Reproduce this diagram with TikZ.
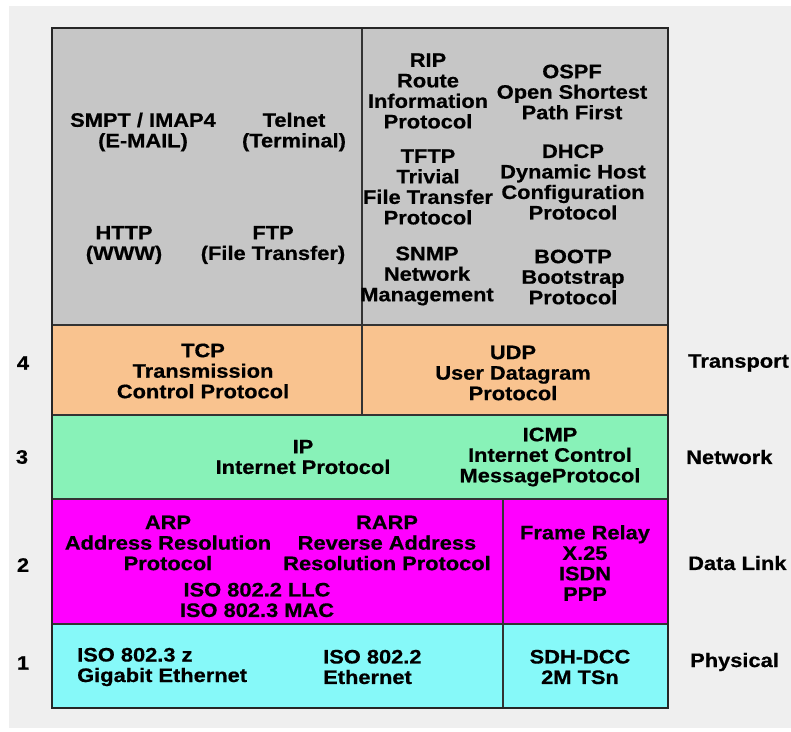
\documentclass[tikz,border=0pt]{standalone}
\usepackage{fontspec}
\setmainfont{Liberation Sans}[FakeStretch=1.12, FakeBold=0.6]
\begin{document}
\begin{tikzpicture}[x=1pt,y=-1pt,
  lbl/.style={font=\bfseries\fontsize{19.5}{20.5}\selectfont, align=center, inner sep=0pt, text=black},
  lbll/.style={lbl, align=left, anchor=west},
  side/.style={lbl, anchor=west},
  num/.style={lbl},
  frame/.style={draw=black!85, line width=2pt},
  divider/.style={draw=black!80, line width=1.4pt}]
\definecolor{bgpaper}{HTML}{EFEFEF}
\definecolor{appgray}{HTML}{C6C6C6}
\definecolor{transport}{HTML}{F9C38F}
\definecolor{network}{HTML}{88F2B8}
\definecolor{datalink}{HTML}{FF00FF}
\definecolor{physical}{HTML}{86F9F9}
% page and paper background
\useasboundingbox (0,0) rectangle (791,731);
\fill[white] (0,0) rectangle (791,731);
\fill[bgpaper] (9,6) rectangle (791,728);
% layer bands
\fill[appgray]   (52,28)  rectangle (668,325);
\fill[transport] (52,325) rectangle (668,415);
\fill[network]   (52,415) rectangle (668,499);
\fill[datalink]  (52,499) rectangle (668,624);
\fill[physical]  (52,624) rectangle (668,708);
% band borders and column dividers
\coordinate (tl) at (52,28);
\coordinate (br) at (668,708);
\draw[divider] (52,325) -- (668,325);
\draw[divider] (52,415) -- (668,415);
\draw[divider] (52,499) -- (668,499);
\draw[divider] (52,624) -- (668,624);
\draw[divider] (362,28) -- (362,415);
\draw[divider] (503,499) -- (503,708);
\draw[frame] (tl) rectangle (br);
% application layer
\node[lbl] (smtp)   at (143,132) {SMPT / IMAP4\\(E-MAIL)};
\node[lbl] (telnet) at (294,132) {Telnet\\(Terminal)};
\node[lbl] (http)   at (124,245) {HTTP\\(WWW)};
\node[lbl] (ftp)    at (273,245) {FTP\\(File Transfer)};
\node[lbl] (rip)    at (428,91)  {RIP\\Route\\Information\\Protocol};
\node[lbl] (ospf)   at (572,92)  {OSPF\\Open Shortest\\Path First};
\node[lbl] (tftp)   at (428,187) {TFTP\\Trivial\\File Transfer\\Protocol};
\node[lbl] (dhcp)   at (573,182) {DHCP\\Dynamic Host\\Configuration\\Protocol};
\node[lbl] (snmp)   at (427,276) {SNMP\\Network\\Management};
\node[lbl] (bootp)  at (573,277) {BOOTP\\Bootstrap\\Protocol};
% transport layer
\node[lbl] (tcp) at (203,371) {TCP\\Transmission\\Control Protocol};
\node[lbl] (udp) at (513,373) {UDP\\User Datagram\\Protocol};
% network layer
\node[lbl] (ip)   at (303,457) {IP\\Internet Protocol};
\node[lbl] (icmp) at (550,457) {ICMP\\Internet Control\\MessageProtocol};
% data link layer
\node[lbl] (arp)  at (168,543) {ARP\\Address Resolution\\Protocol};
\node[lbl] (rarp) at (387,543) {RARP\\Reverse Address\\Resolution Protocol};
\node[lbl] (llc)  at (257,600) {ISO 802.2 LLC\\ISO 802.3 MAC};
\node[lbl] (wan)  at (585,563) {Frame Relay\\X.25\\ISDN\\PPP};
% physical layer
\node[lbll] (gig)  at (77,667)  {ISO 802.3 z\\Gigabit Ethernet};
\node[lbll] (eth)  at (323,667) {ISO 802.2\\Ethernet};
\node[lbl]  (sdh)  at (580,667) {SDH-DCC\\2M TSn};
% layer numbers
\node[num] (n4) at (23,363) {4};
\node[num] (n3) at (22,457) {3};
\node[num] (n2) at (23,565) {2};
\node[num] (n1) at (23,663) {1};
% layer names
\node[side] (s4) at (688,363) {Transport};
\node[side] (s3) at (686,457) {Network};
\node[side] (s2) at (688,563) {Data Link};
\node[side] (s1) at (690,662) {Physical};
\end{tikzpicture}
\end{document}
